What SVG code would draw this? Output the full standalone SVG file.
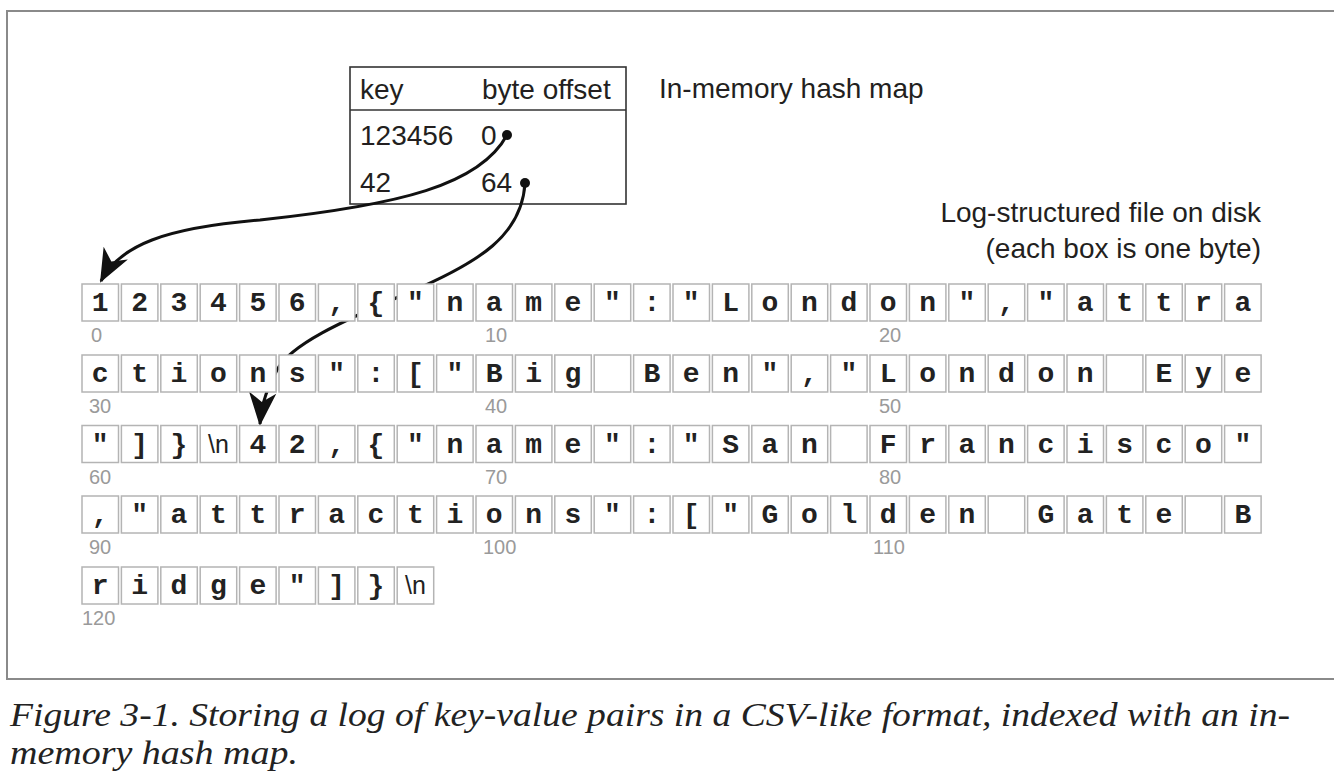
<svg xmlns="http://www.w3.org/2000/svg" width="1334" height="780" viewBox="0 0 1334 780">
<style>
.frame{fill:none;stroke:#8a8a8a;stroke-width:2}
.tbl{fill:none;stroke:#333;stroke-width:1.6}
.sans{font-family:"Liberation Sans","Open Sans",sans-serif;fill:#231f20}
.t26{font-size:28px}
.cell rect{fill:#fff;stroke:#b4b4b4;stroke-width:1.5}
.cell text{font-family:"Liberation Mono","Courier New",monospace;font-weight:bold;font-size:28px;fill:#222;text-anchor:middle}
.cell text.nl{font-family:"Liberation Sans",sans-serif;font-weight:normal;font-size:25px}
.lbl{font-family:"Liberation Sans","Open Sans",sans-serif;font-size:20px;fill:#9a9a9a}
.conn{fill:none;stroke:#111;stroke-width:3}
.cap{font-family:"Liberation Serif","Times New Roman",serif;font-style:italic;font-size:34px;fill:#222}
</style>
<defs>
<marker id="ah" markerUnits="userSpaceOnUse" markerWidth="40" markerHeight="40" viewBox="-34 -16 38 32" refX="0" refY="0" orient="auto">
<path d="M2,0 L-30,-13 L-21,0 L-30,13 Z" fill="#111"/>
</marker>
</defs>
<rect class="frame" x="7" y="11" width="1340" height="668"/>

<g id="hashmap">
<rect class="tbl" x="350" y="67" width="276" height="137"/>
<line class="tbl" x1="350" y1="110" x2="626" y2="110"/>
<text class="sans t26" x="360" y="99">key</text>
<text class="sans t26" x="482" y="99">byte offset</text>
<text class="sans t26" x="360" y="145">123456</text>
<text class="sans t26" x="481" y="145">0</text>
<text class="sans t26" x="360" y="192">42</text>
<text class="sans t26" x="481" y="192">64</text>
</g>
<g id="label-hashmap"><text class="sans t26" x="659" y="98">In-memory hash map</text></g>
<g id="label-log">
<text class="sans t26" x="1261" y="222" text-anchor="end">Log-structured file on disk</text>
<text class="sans t26" x="1261" y="258" text-anchor="end">(each box is one byte)</text>
</g>

<g id="connectors">
<path class="conn" d="M507,135 C480,185 400,205 260,220 C165,228 120,245 101,281" marker-end="url(#ah)"/>
<path class="conn" d="M525,183 C522,235 480,262 410,292 C340,322 290,345 277,370 C268,388 262,400 260,424" marker-end="url(#ah)"/>
<circle cx="507" cy="135" r="5" fill="#111"/>
<circle cx="525" cy="183" r="5" fill="#111"/>
</g>

<g id="row1" class="cell" transform="translate(0,284)">
<rect x="82" y="0" width="36.5" height="37"/><text x="100.2" y="27">1</text>
<rect x="121.4" y="0" width="36.5" height="37"/><text x="139.6" y="27">2</text>
<rect x="160.8" y="0" width="36.5" height="37"/><text x="179" y="27">3</text>
<rect x="200.2" y="0" width="36.5" height="37"/><text x="218.4" y="27">4</text>
<rect x="239.6" y="0" width="36.5" height="37"/><text x="257.8" y="27">5</text>
<rect x="279" y="0" width="36.5" height="37"/><text x="297.2" y="27">6</text>
<rect x="318.4" y="0" width="36.5" height="37"/><text x="336.6" y="27">,</text>
<rect x="357.8" y="0" width="36.5" height="37"/><text x="376" y="27">{</text>
<rect x="397.2" y="0" width="36.5" height="37"/><text x="415.4" y="27">"</text>
<rect x="436.6" y="0" width="36.5" height="37"/><text x="454.8" y="27">n</text>
<rect x="476" y="0" width="36.5" height="37"/><text x="494.2" y="27">a</text>
<rect x="515.4" y="0" width="36.5" height="37"/><text x="533.6" y="27">m</text>
<rect x="554.8" y="0" width="36.5" height="37"/><text x="573" y="27">e</text>
<rect x="594.2" y="0" width="36.5" height="37"/><text x="612.4" y="27">"</text>
<rect x="633.6" y="0" width="36.5" height="37"/><text x="651.8" y="27">:</text>
<rect x="673" y="0" width="36.5" height="37"/><text x="691.2" y="27">"</text>
<rect x="712.4" y="0" width="36.5" height="37"/><text x="730.6" y="27">L</text>
<rect x="751.8" y="0" width="36.5" height="37"/><text x="770" y="27">o</text>
<rect x="791.2" y="0" width="36.5" height="37"/><text x="809.4" y="27">n</text>
<rect x="830.6" y="0" width="36.5" height="37"/><text x="848.8" y="27">d</text>
<rect x="870" y="0" width="36.5" height="37"/><text x="888.2" y="27">o</text>
<rect x="909.4" y="0" width="36.5" height="37"/><text x="927.6" y="27">n</text>
<rect x="948.8" y="0" width="36.5" height="37"/><text x="967" y="27">"</text>
<rect x="988.2" y="0" width="36.5" height="37"/><text x="1006.4" y="27">,</text>
<rect x="1027.6" y="0" width="36.5" height="37"/><text x="1045.8" y="27">"</text>
<rect x="1067" y="0" width="36.5" height="37"/><text x="1085.2" y="27">a</text>
<rect x="1106.4" y="0" width="36.5" height="37"/><text x="1124.6" y="27">t</text>
<rect x="1145.8" y="0" width="36.5" height="37"/><text x="1164" y="27">t</text>
<rect x="1185.2" y="0" width="36.5" height="37"/><text x="1203.4" y="27">r</text>
<rect x="1224.6" y="0" width="36.5" height="37"/><text x="1242.8" y="27">a</text>
</g>
<g class="lbl"><text x="91" y="342">0</text><text x="485" y="342">10</text><text x="879" y="342">20</text></g>

<g id="row2" class="cell" transform="translate(0,355)">
<rect x="82" y="0" width="36.5" height="37"/><text x="100.2" y="27">c</text>
<rect x="121.4" y="0" width="36.5" height="37"/><text x="139.6" y="27">t</text>
<rect x="160.8" y="0" width="36.5" height="37"/><text x="179" y="27">i</text>
<rect x="200.2" y="0" width="36.5" height="37"/><text x="218.4" y="27">o</text>
<rect x="239.6" y="0" width="36.5" height="37"/><text x="257.8" y="27">n</text>
<rect x="279" y="0" width="36.5" height="37"/><text x="297.2" y="27">s</text>
<rect x="318.4" y="0" width="36.5" height="37"/><text x="336.6" y="27">"</text>
<rect x="357.8" y="0" width="36.5" height="37"/><text x="376" y="27">:</text>
<rect x="397.2" y="0" width="36.5" height="37"/><text x="415.4" y="27">[</text>
<rect x="436.6" y="0" width="36.5" height="37"/><text x="454.8" y="27">"</text>
<rect x="476" y="0" width="36.5" height="37"/><text x="494.2" y="27">B</text>
<rect x="515.4" y="0" width="36.5" height="37"/><text x="533.6" y="27">i</text>
<rect x="554.8" y="0" width="36.5" height="37"/><text x="573" y="27">g</text>
<rect x="594.2" y="0" width="36.5" height="37"/>
<rect x="633.6" y="0" width="36.5" height="37"/><text x="651.8" y="27">B</text>
<rect x="673" y="0" width="36.5" height="37"/><text x="691.2" y="27">e</text>
<rect x="712.4" y="0" width="36.5" height="37"/><text x="730.6" y="27">n</text>
<rect x="751.8" y="0" width="36.5" height="37"/><text x="770" y="27">"</text>
<rect x="791.2" y="0" width="36.5" height="37"/><text x="809.4" y="27">,</text>
<rect x="830.6" y="0" width="36.5" height="37"/><text x="848.8" y="27">"</text>
<rect x="870" y="0" width="36.5" height="37"/><text x="888.2" y="27">L</text>
<rect x="909.4" y="0" width="36.5" height="37"/><text x="927.6" y="27">o</text>
<rect x="948.8" y="0" width="36.5" height="37"/><text x="967" y="27">n</text>
<rect x="988.2" y="0" width="36.5" height="37"/><text x="1006.4" y="27">d</text>
<rect x="1027.6" y="0" width="36.5" height="37"/><text x="1045.8" y="27">o</text>
<rect x="1067" y="0" width="36.5" height="37"/><text x="1085.2" y="27">n</text>
<rect x="1106.4" y="0" width="36.5" height="37"/>
<rect x="1145.8" y="0" width="36.5" height="37"/><text x="1164" y="27">E</text>
<rect x="1185.2" y="0" width="36.5" height="37"/><text x="1203.4" y="27">y</text>
<rect x="1224.6" y="0" width="36.5" height="37"/><text x="1242.8" y="27">e</text>
</g>
<g class="lbl"><text x="89" y="413">30</text><text x="485" y="413">40</text><text x="879" y="413">50</text></g>

<g id="row3" class="cell" transform="translate(0,425.5)">
<rect x="82" y="0" width="36.5" height="37"/><text x="100.2" y="27">"</text>
<rect x="121.4" y="0" width="36.5" height="37"/><text x="139.6" y="27">]</text>
<rect x="160.8" y="0" width="36.5" height="37"/><text x="179" y="27">}</text>
<rect x="200.2" y="0" width="36.5" height="37"/><text class="nl" x="218.4" y="27">\n</text>
<rect x="239.6" y="0" width="36.5" height="37"/><text x="257.8" y="27">4</text>
<rect x="279" y="0" width="36.5" height="37"/><text x="297.2" y="27">2</text>
<rect x="318.4" y="0" width="36.5" height="37"/><text x="336.6" y="27">,</text>
<rect x="357.8" y="0" width="36.5" height="37"/><text x="376" y="27">{</text>
<rect x="397.2" y="0" width="36.5" height="37"/><text x="415.4" y="27">"</text>
<rect x="436.6" y="0" width="36.5" height="37"/><text x="454.8" y="27">n</text>
<rect x="476" y="0" width="36.5" height="37"/><text x="494.2" y="27">a</text>
<rect x="515.4" y="0" width="36.5" height="37"/><text x="533.6" y="27">m</text>
<rect x="554.8" y="0" width="36.5" height="37"/><text x="573" y="27">e</text>
<rect x="594.2" y="0" width="36.5" height="37"/><text x="612.4" y="27">"</text>
<rect x="633.6" y="0" width="36.5" height="37"/><text x="651.8" y="27">:</text>
<rect x="673" y="0" width="36.5" height="37"/><text x="691.2" y="27">"</text>
<rect x="712.4" y="0" width="36.5" height="37"/><text x="730.6" y="27">S</text>
<rect x="751.8" y="0" width="36.5" height="37"/><text x="770" y="27">a</text>
<rect x="791.2" y="0" width="36.5" height="37"/><text x="809.4" y="27">n</text>
<rect x="830.6" y="0" width="36.5" height="37"/>
<rect x="870" y="0" width="36.5" height="37"/><text x="888.2" y="27">F</text>
<rect x="909.4" y="0" width="36.5" height="37"/><text x="927.6" y="27">r</text>
<rect x="948.8" y="0" width="36.5" height="37"/><text x="967" y="27">a</text>
<rect x="988.2" y="0" width="36.5" height="37"/><text x="1006.4" y="27">n</text>
<rect x="1027.6" y="0" width="36.5" height="37"/><text x="1045.8" y="27">c</text>
<rect x="1067" y="0" width="36.5" height="37"/><text x="1085.2" y="27">i</text>
<rect x="1106.4" y="0" width="36.5" height="37"/><text x="1124.6" y="27">s</text>
<rect x="1145.8" y="0" width="36.5" height="37"/><text x="1164" y="27">c</text>
<rect x="1185.2" y="0" width="36.5" height="37"/><text x="1203.4" y="27">o</text>
<rect x="1224.6" y="0" width="36.5" height="37"/><text x="1242.8" y="27">"</text>
</g>
<g class="lbl"><text x="89" y="483.5">60</text><text x="485" y="483.5">70</text><text x="879" y="483.5">80</text></g>

<g id="row4" class="cell" transform="translate(0,496)">
<rect x="82" y="0" width="36.5" height="37"/><text x="100.2" y="27">,</text>
<rect x="121.4" y="0" width="36.5" height="37"/><text x="139.6" y="27">"</text>
<rect x="160.8" y="0" width="36.5" height="37"/><text x="179" y="27">a</text>
<rect x="200.2" y="0" width="36.5" height="37"/><text x="218.4" y="27">t</text>
<rect x="239.6" y="0" width="36.5" height="37"/><text x="257.8" y="27">t</text>
<rect x="279" y="0" width="36.5" height="37"/><text x="297.2" y="27">r</text>
<rect x="318.4" y="0" width="36.5" height="37"/><text x="336.6" y="27">a</text>
<rect x="357.8" y="0" width="36.5" height="37"/><text x="376" y="27">c</text>
<rect x="397.2" y="0" width="36.5" height="37"/><text x="415.4" y="27">t</text>
<rect x="436.6" y="0" width="36.5" height="37"/><text x="454.8" y="27">i</text>
<rect x="476" y="0" width="36.5" height="37"/><text x="494.2" y="27">o</text>
<rect x="515.4" y="0" width="36.5" height="37"/><text x="533.6" y="27">n</text>
<rect x="554.8" y="0" width="36.5" height="37"/><text x="573" y="27">s</text>
<rect x="594.2" y="0" width="36.5" height="37"/><text x="612.4" y="27">"</text>
<rect x="633.6" y="0" width="36.5" height="37"/><text x="651.8" y="27">:</text>
<rect x="673" y="0" width="36.5" height="37"/><text x="691.2" y="27">[</text>
<rect x="712.4" y="0" width="36.5" height="37"/><text x="730.6" y="27">"</text>
<rect x="751.8" y="0" width="36.5" height="37"/><text x="770" y="27">G</text>
<rect x="791.2" y="0" width="36.5" height="37"/><text x="809.4" y="27">o</text>
<rect x="830.6" y="0" width="36.5" height="37"/><text x="848.8" y="27">l</text>
<rect x="870" y="0" width="36.5" height="37"/><text x="888.2" y="27">d</text>
<rect x="909.4" y="0" width="36.5" height="37"/><text x="927.6" y="27">e</text>
<rect x="948.8" y="0" width="36.5" height="37"/><text x="967" y="27">n</text>
<rect x="988.2" y="0" width="36.5" height="37"/>
<rect x="1027.6" y="0" width="36.5" height="37"/><text x="1045.8" y="27">G</text>
<rect x="1067" y="0" width="36.5" height="37"/><text x="1085.2" y="27">a</text>
<rect x="1106.4" y="0" width="36.5" height="37"/><text x="1124.6" y="27">t</text>
<rect x="1145.8" y="0" width="36.5" height="37"/><text x="1164" y="27">e</text>
<rect x="1185.2" y="0" width="36.5" height="37"/>
<rect x="1224.6" y="0" width="36.5" height="37"/><text x="1242.8" y="27">B</text>
</g>
<g class="lbl"><text x="89" y="554">90</text><text x="483" y="554">100</text><text x="873" y="554">110</text></g>

<g id="row5" class="cell" transform="translate(0,567)">
<rect x="82" y="0" width="36.5" height="37"/><text x="100.2" y="27">r</text>
<rect x="121.4" y="0" width="36.5" height="37"/><text x="139.6" y="27">i</text>
<rect x="160.8" y="0" width="36.5" height="37"/><text x="179" y="27">d</text>
<rect x="200.2" y="0" width="36.5" height="37"/><text x="218.4" y="27">g</text>
<rect x="239.6" y="0" width="36.5" height="37"/><text x="257.8" y="27">e</text>
<rect x="279" y="0" width="36.5" height="37"/><text x="297.2" y="27">"</text>
<rect x="318.4" y="0" width="36.5" height="37"/><text x="336.6" y="27">]</text>
<rect x="357.8" y="0" width="36.5" height="37"/><text x="376" y="27">}</text>
<rect x="397.2" y="0" width="36.5" height="37"/><text class="nl" x="415.4" y="27">\n</text>
</g>
<g class="lbl"><text x="82" y="625">120</text></g>

<g id="caption">
<text class="cap" x="10" y="726" textLength="1280" lengthAdjust="spacingAndGlyphs">Figure 3-1. Storing a log of key-value pairs in a CSV-like format, indexed with an in-</text>
<text class="cap" x="10" y="764" textLength="288" lengthAdjust="spacingAndGlyphs">memory hash map.</text>
</g>
</svg>
